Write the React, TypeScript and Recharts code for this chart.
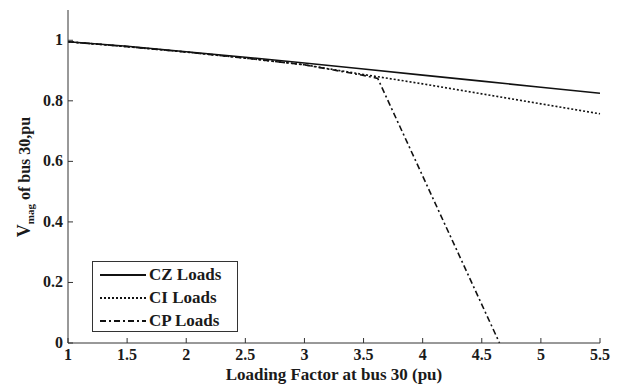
import React from "react";
import { LineChart, Line, XAxis, YAxis } from "recharts";

const loadingX = [1, 1.5, 2, 2.5, 3, 3.5, 4, 4.5, 5, 5.5];
const czLoads = [0.995, 0.98, 0.962, 0.944, 0.925, 0.905, 0.885, 0.865, 0.845, 0.825];
const ciLoads = [0.995, 0.979, 0.961, 0.941, 0.919, 0.887, 0.856, 0.823, 0.79, 0.757];
const cpX = [1, 1.5, 2, 2.5, 3, 3.5, 3.62, 4.65];
const cpLoads = [0.995, 0.979, 0.961, 0.941, 0.919, 0.884, 0.874, 0];
const xTicks = [1, 1.5, 2, 2.5, 3, 3.5, 4, 4.5, 5, 5.5];
const yTicks = [0, 0.2, 0.4, 0.6, 0.8, 1];

type Row = { x: number; cz: number | null; ci: number | null; cp: number | null };
const allX = Array.from(new Set([...loadingX, ...cpX])).sort((a, b) => a - b);
const data: Row[] = allX.map((x) => {
  const i = loadingX.indexOf(x);
  const j = cpX.indexOf(x);
  return {
    x,
    cz: i >= 0 ? czLoads[i] : null,
    ci: i >= 0 ? ciLoads[i] : null,
    cp: j >= 0 ? cpLoads[j] : null,
  };
});

const FONT = "'Liberation Serif', 'Times New Roman', serif";
const TXT = "#1a1a1a";
const AX = "#333";

const XTickBottom = (props: any) => {
  const { x, y, payload } = props;
  return (
    <g>
      <line x1={x} y1={y} x2={x} y2={y - 5} stroke={AX} />
      <text x={x} y={y + 17} textAnchor="middle" fontFamily={FONT} fontWeight="bold" fontSize={16} fill={TXT}>
        {payload.value}
      </text>
    </g>
  );
};
const XTickTop = (props: any) => {
  const { x, y } = props;
  return <line x1={x} y1={y} x2={x} y2={y + 5} stroke={AX} />;
};
const YTickLeft = (props: any) => {
  const { x, y, payload } = props;
  return (
    <g>
      <line x1={x} y1={y} x2={x + 5} y2={y} stroke={AX} />
      <text x={x - 5} y={y + 5} textAnchor="end" fontFamily={FONT} fontWeight="bold" fontSize={16} fill={TXT}>
        {payload.value}
      </text>
    </g>
  );
};
const YTickRight = (props: any) => {
  const { x, y } = props;
  return <line x1={x} y1={y} x2={x - 5} y2={y} stroke={AX} />;
};

const YTitle = () => (
  <text
    x={30}
    y={177}
    transform="rotate(-90, 30, 177)"
    textAnchor="middle"
    fontFamily={FONT}
    fontWeight="bold"
    fill={TXT}
  >
    <tspan fontSize={18}>V</tspan>
    <tspan fontSize={11} dy={4}>mag</tspan>
    <tspan fontSize={16} dy={-4}> of bus 30,pu</tspan>
  </text>
);

const legendItems = [
  { label: "CZ Loads", dash: undefined as string | undefined },
  { label: "CI Loads", dash: "2 2" },
  { label: "CP Loads", dash: "6 3 2 3" },
];

const LegendBox = () => (
  <div
    style={{
      position: "absolute",
      left: 92,
      top: 261,
      border: "1px solid #333",
      width: 146,
      height: 71,
      background: "#fff",
      boxSizing: "border-box",
      paddingTop: 1,
    }}
  >
    {legendItems.map((it) => (
      <div key={it.label} style={{ display: "flex", alignItems: "center", height: 23, paddingLeft: 7 }}>
        <svg width={46} height={10}>
          <line x1={0} y1={5} x2={46} y2={5} stroke="#111" strokeWidth={2} strokeDasharray={it.dash} />
        </svg>
        <span style={{ fontFamily: FONT, fontWeight: "bold", fontSize: 17, color: TXT, marginLeft: 3 }}>
          {it.label}
        </span>
      </div>
    ))}
  </div>
);

export default function App() {
  return (
    <div style={{ position: "absolute", left: 0, top: 0, width: 623, height: 385, background: "#fff" }}>
      <LineChart width={623} height={385} data={data} margin={{ top: 10, right: 23, left: 0, bottom: 0 }}>
        <XAxis
          dataKey="x"
          type="number"
          domain={[1, 5.5]}
          ticks={xTicks}
          xAxisId="b"
          height={42}
          tickSize={0}
          tickMargin={0}
          tickLine={false}
          axisLine={{ stroke: AX }}
          tick={<XTickBottom />}
          interval={0}
          label={{
            value: "Loading Factor at bus 30 (pu)",
            position: "insideBottom",
            offset: 5,
            style: { fontFamily: FONT, fontWeight: "bold", fontSize: 17, fill: TXT },
          }}
        />
        <XAxis
          dataKey="x"
          type="number"
          domain={[1, 5.5]}
          ticks={xTicks}
          xAxisId="t"
          orientation="top"
          height={0}
          tickSize={0}
          tickMargin={0}
          tickLine={false}
          axisLine={{ stroke: AX }}
          tick={<XTickTop />}
          interval={0}
        />
        <YAxis
          type="number"
          domain={[0, 1.1]}
          ticks={yTicks}
          yAxisId="l"
          width={68}
          tickSize={0}
          tickMargin={0}
          tickLine={false}
          axisLine={{ stroke: AX }}
          tick={<YTickLeft />}
          interval={0}
          label={<YTitle />}
        />
        <YAxis
          type="number"
          domain={[0, 1.1]}
          ticks={yTicks}
          yAxisId="r"
          orientation="right"
          width={0}
          tickSize={0}
          tickMargin={0}
          tickLine={false}
          axisLine={{ stroke: AX }}
          tick={<YTickRight />}
          interval={0}
        />
        <Line xAxisId="b" yAxisId="l" dataKey="cz" stroke="#111" strokeWidth={1.6} dot={false} connectNulls isAnimationActive={false} />
        <Line xAxisId="b" yAxisId="l" dataKey="ci" stroke="#111" strokeWidth={1.6} strokeDasharray="2 2" dot={false} connectNulls isAnimationActive={false} />
        <Line xAxisId="b" yAxisId="l" dataKey="cp" stroke="#111" strokeWidth={1.6} strokeDasharray="6 3 2 3" dot={false} connectNulls isAnimationActive={false} />
      </LineChart>
      <LegendBox />
    </div>
  );
}
